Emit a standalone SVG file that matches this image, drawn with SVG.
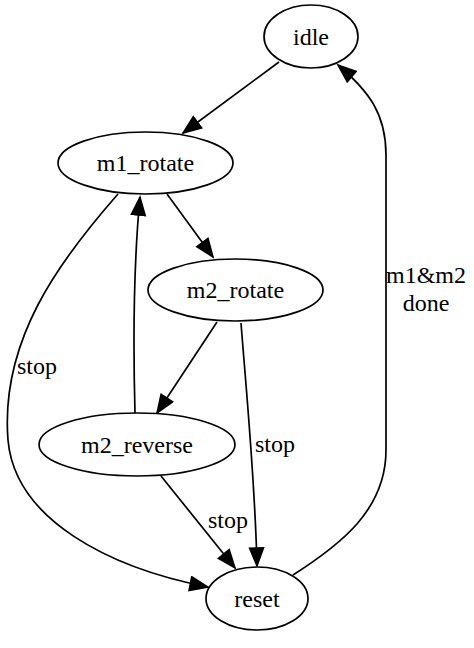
<svg xmlns="http://www.w3.org/2000/svg" width="474" height="648" viewBox="0 0 474 648">
<style>
.node ellipse{fill:#fff;stroke:#000;stroke-width:1.7}
.t{font-family:'Liberation Serif','Times New Roman',Times,serif;font-size:24px;fill:#000;text-anchor:middle}
.edge{fill:none;stroke:#000;stroke-width:1.7;marker-end:url(#arr)}
</style>
<defs>
<marker id="arr" markerUnits="userSpaceOnUse" markerWidth="22" markerHeight="18" refX="19" refY="8" orient="auto">
<path d="M1,1 L19,8 L1,15 z" fill="#000" stroke="#000" stroke-width="1.5"/>
</marker>
</defs>
<rect width="474" height="648" fill="#fff"/>
<g id="edges">
<path class="edge" d="M279,62 L183,133"/>
<path class="edge" d="M167,194 L213,257"/>
<path class="edge" d="M217,322 L157,413"/>
<path class="edge" d="M135,413 C133,340 134,260 140,197"/>
<path class="edge" d="M118,194 C60,260 0,340 8,440 C15,520 110,568 208,587"/>
<path class="edge" d="M241,323 C247,400 255,480 257,566"/>
<path class="edge" d="M161,476 L235,568"/>
<path class="edge" d="M293,575 C340,545 386,510 386,450 L386,155 C386,115 370,92 338,65"/>
<text class="t" font-family="Liberation Serif, serif" x="37" y="374">stop</text>
<text class="t" font-family="Liberation Serif, serif" x="275" y="452">stop</text>
<text class="t" font-family="Liberation Serif, serif" x="228" y="528">stop</text>
<text class="t" font-family="Liberation Serif, serif" x="426" y="283">m1&amp;m2</text>
<text class="t" font-family="Liberation Serif, serif" x="426" y="311">done</text>
</g>
<g id="idle" class="node"><ellipse cx="311" cy="36.5" rx="47" ry="31.5"/><text class="t" font-family="Liberation Serif, serif" x="311" y="44.5">idle</text></g>
<g id="m1_rotate" class="node"><ellipse cx="145.5" cy="163" rx="87.5" ry="31"/><text class="t" font-family="Liberation Serif, serif" x="145.5" y="171">m1_rotate</text></g>
<g id="m2_rotate" class="node"><ellipse cx="235.5" cy="290" rx="87.5" ry="31"/><text class="t" font-family="Liberation Serif, serif" x="235.5" y="298">m2_rotate</text></g>
<g id="m2_reverse" class="node"><ellipse cx="137" cy="444.5" rx="98" ry="31.5"/><text class="t" font-family="Liberation Serif, serif" x="137" y="452.5">m2_reverse</text></g>
<g id="reset" class="node"><ellipse cx="257" cy="598.5" rx="51" ry="31.5"/><text class="t" font-family="Liberation Serif, serif" x="257" y="606.5">reset</text></g>
</svg>
